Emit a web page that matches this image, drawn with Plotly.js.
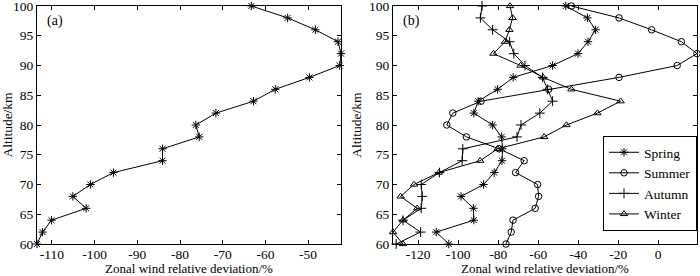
<!DOCTYPE html>
<html>
<head>
<meta charset="utf-8">
<script src="https://cdn.plot.ly/plotly-3.0.1.min.js"></script>
<style>html,body{margin:0;padding:0;background:#fff;}#chart{width:700px;height:276px;}</style>
</head>
<body>
<div id="chart"></div>
<script>
// Altitude levels (km)
const altitude = [100, 98, 96, 94, 92, 90, 88, 86, 84, 82, 80, 78, 76, 74, 72, 70, 68, 66, 64, 62, 60];

// Panel (a): zonal wind relative deviation (%)
const panelA = [-63.3, -54.8, -48.3, -43.0, -42.3, -42.6, -49.7, -57.7, -62.8, -71.6, -76.3, -75.5, -84.1, -84.1, -95.6, -101.0, -105.1, -102.0, -110.1, -112.2, -113.5];

// Panel (b): seasonal zonal wind relative deviation (%)
const spring = [-46.2, -35.4, -31.3, -35.1, -40.1, -52.8, -72.5, -80.3, -90.0, -92.2, -82.8, -78.3, -77.8, -78.1, -82.0, -87.3, -98.6, -92.4, -92.2, -111.0, -104.7];
const summer = [-43.4, -19.6, -3.3, 11.6, 19.4, 9.5, -19.6, -54.8, -88.6, -102.7, -105.7, -95.9, -79.5, -67.0, -71.3, -60.3, -59.8, -61.5, -72.6, -73.5, -76.1];
const autumn = [-88.1, -88.9, -82.8, -74.3, -72.2, -66.6, -57.8, -55.3, -52.8, -59.2, -68.6, -70.6, -97.7, -98.0, -109.4, -118.5, -118.0, -118.5, -127.6, -118.8, -131.0];
const winter = [-74.1, -72.8, -74.4, -76.6, -82.4, -68.8, -57.5, -43.4, -18.8, -30.4, -45.9, -57.0, -80.3, -89.0, -109.7, -122.1, -128.8, -120.5, -127.6, -132.6, -127.6];

const seasonNames = ['Spring', 'Summer', 'Autumn', 'Winter'];
const seasonSeries = [spring, summer, autumn, winter];

const xTicksA = [-110, -100, -90, -80, -70, -60, -50];
const xTicksB = [-120, -100, -80, -60, -40, -20, 0];
const yTicks = [60, 65, 70, 75, 80, 85, 90, 95, 100];

const FONT = '"Liberation Serif", "Times New Roman", serif';
const symbols = ['asterisk-open', 'circle-open', 'cross-thin-open', 'triangle-up-open'];
const sizes = [7, 6.5, 7, 6.5];

const traces = [];
traces.push({
  x: panelA, y: altitude, xaxis: 'x', yaxis: 'y',
  mode: 'lines+markers', showlegend: false,
  line: {color: '#000', width: 1},
  marker: {symbol: 'asterisk-open', size: 7, color: '#000', line: {color: '#000', width: 1}},
  cliponaxis: false
});
seasonSeries.forEach((s, i) => {
  traces.push({
    x: s, y: altitude, xaxis: 'x2', yaxis: 'y2', name: seasonNames[i],
    mode: 'lines+markers',
    line: {color: '#000', width: 1},
    marker: {symbol: symbols[i], size: sizes[i], color: '#000', line: {color: '#000', width: 1}},
    cliponaxis: false
  });
});

const allB = [].concat(spring, summer, autumn, winter);
const rangeA = [Math.min(...panelA), Math.max(...panelA)];
const rangeB = [Math.min(...allB), Math.max(...allB)];

function xax(domain, range, ticks, anchor) {
  return {
    domain: domain, range: range, autorange: false, anchor: anchor,
    tickvals: ticks, ticktext: ticks.map(String),
    ticks: 'inside', ticklen: 4, tickwidth: 1, tickcolor: '#000',
    showline: true, linecolor: '#000', linewidth: 1, mirror: 'ticks',
    showgrid: false, zeroline: false, ticklabeloverflow: 'allow',
    ticklabelstandoff: -2,
    tickfont: {family: FONT, size: 13.5, color: '#000'},
    title: {text: 'Zonal wind relative deviation/%', font: {family: FONT, size: 13, color: '#000'}, standoff: 3}
  };
}
function yax(domain, anchor) {
  return {
    domain: domain, range: [60, 100], autorange: false, anchor: anchor,
    tickvals: yTicks, ticktext: yTicks.map(String),
    ticks: 'inside', ticklen: 4, tickwidth: 1, tickcolor: '#000',
    showline: true, linecolor: '#000', linewidth: 1, mirror: 'ticks',
    showgrid: false, zeroline: false, ticklabeloverflow: 'allow',
    tickfont: {family: FONT, size: 13.5, color: '#000'},
    title: {text: 'Altitude/km', font: {family: FONT, size: 13.5, color: '#000'}, standoff: 4}
  };
}

const yDom = [(276 - 244) / 276, (276 - 6) / 276];
const layout = {
  width: 700, height: 276,
  margin: {l: 0, r: 0, t: 0, b: 0},
  paper_bgcolor: '#fff', plot_bgcolor: '#fff',
  font: {family: FONT, color: '#000'},
  xaxis: xax([37 / 700, 341 / 700], rangeA, xTicksA, 'y'),
  yaxis: yax(yDom, 'x'),
  xaxis2: xax([393 / 700, 697 / 700], rangeB, xTicksB, 'y2'),
  yaxis2: yax(yDom, 'x2'),
  showlegend: true,
  legend: {
    x: 603 / 700, xanchor: 'left', y: (276 - 231) / 276, yanchor: 'bottom',
    bgcolor: '#fff', bordercolor: '#000', borderwidth: 1,
    font: {family: FONT, size: 13.5, color: '#000'},
    tracegroupgap: 0, itemwidth: 30
  },
  annotations: [
    {text: '(a)', xref: 'paper', yref: 'paper', x: 45 / 700, y: (276 - 21) / 276, xanchor: 'left', yanchor: 'middle', showarrow: false, font: {family: FONT, size: 14, color: '#000'}},
    {text: '(b)', xref: 'paper', yref: 'paper', x: 401 / 700, y: (276 - 21) / 276, xanchor: 'left', yanchor: 'middle', showarrow: false, font: {family: FONT, size: 14, color: '#000'}}
  ]
};

Plotly.newPlot('chart', traces, layout, {staticPlot: true, displayModeBar: false});
</script>
</body>
</html>
